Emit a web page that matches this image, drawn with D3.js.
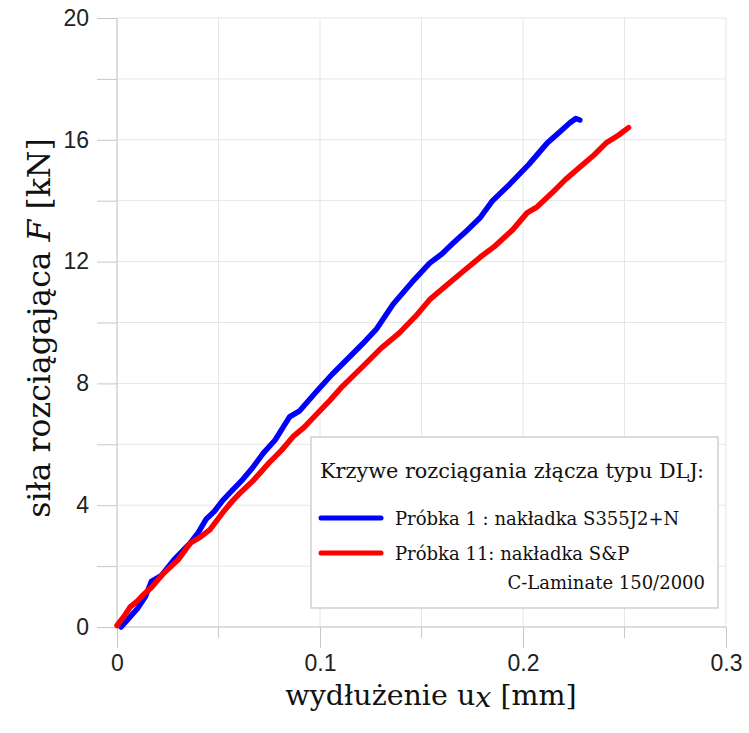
<!DOCTYPE html>
<html lang="pl">
<head>
    <meta charset="UTF-8">
    <script src="https://cdn.jsdelivr.net/npm/d3@7/dist/d3.min.js"></script>
    <title>Krzywe rozciągania</title>
    <style>
        body { margin: 0; background: #fff; }
        .grid line { stroke: #e6e6e6; stroke-width: 1; }
        .axis line, .axis path { stroke: #c8c8c8; }
        .axis text { font-family: "Liberation Sans", Arial, sans-serif; font-size: 23px; fill: #222; }
        .curve { fill: none; stroke-width: 5.5; stroke-linejoin: round; stroke-linecap: round; }
        .lgd { font-family: "DejaVu Serif", serif; fill: #111; }
    </style>
</head>
<body>
<svg id="chart" width="749" height="733"></svg>
<script>
    // [wydłużenie mm, siła kN]
    var probka1 = [[0.002,0],[0.006,0.3],[0.010,0.6],[0.014,1.0],[0.017,1.5],[0.022,1.7],[0.028,2.2],
        [0.036,2.75],[0.040,3.1],[0.044,3.55],[0.048,3.8],[0.052,4.15],[0.057,4.5],[0.062,4.85],
        [0.067,5.25],[0.072,5.7],[0.078,6.15],[0.085,6.9],[0.090,7.1],[0.0985,7.75],[0.106,8.3],
        [0.115,8.9],[0.121,9.3],[0.128,9.8],[0.136,10.6],[0.145,11.3],[0.154,11.95],[0.160,12.25],
        [0.1655,12.6],[0.172,13.0],[0.179,13.45],[0.185,14.0],[0.1936,14.55],[0.203,15.2],
        [0.212,15.9],[0.218,16.25],[0.223,16.55],[0.226,16.7],[0.228,16.65]];
    var probka11 = [[0,0.05],[0.004,0.4],[0.0064,0.65],[0.010,0.85],[0.0128,1.05],[0.017,1.3],
        [0.0227,1.75],[0.030,2.2],[0.036,2.75],[0.041,2.95],[0.0458,3.2],[0.052,3.75],[0.057,4.15],
        [0.0606,4.4],[0.067,4.8],[0.075,5.4],[0.081,5.8],[0.0867,6.25],[0.092,6.55],[0.0985,7.0],
        [0.105,7.45],[0.111,7.9],[0.121,8.55],[0.130,9.15],[0.139,9.65],[0.147,10.2],[0.154,10.75],
        [0.162,11.2],[0.170,11.65],[0.179,12.15],[0.186,12.5],[0.195,13.05],[0.202,13.6],
        [0.207,13.8],[0.215,14.3],[0.221,14.7],[0.228,15.1],[0.235,15.5],[0.241,15.9],
        [0.247,16.15],[0.252,16.4]];
    var xTicks = [0, 0.1, 0.2, 0.3];
    var xMinor = [0.05, 0.15, 0.25];
    var yTicks = [0, 4, 8, 12, 16, 20];
    var yGrid = [0, 2, 4, 6, 8, 10, 12, 14, 16, 18, 20];
    var xGrid = [0, 0.05, 0.1, 0.15, 0.2, 0.25, 0.3];
    var legendTitle = "Krzywe rozciągania złącza typu DLJ:";
    var series = [
        {name: "Próbka 1 : nakładka S355J2+N", extra: null, color: "#0000ff", data: probka1},
        {name: "Próbka 11: nakładka S&P", extra: "C-Laminate 150/2000", color: "#ff0000", data: probka11}
    ];

    var svg = d3.select("#chart");
    var pLeft = 117, pRight = 726, pTop = 18, pBottom = 627;

    var x = d3.scaleLinear().domain([0, 0.3]).range([pLeft, pRight]);
    var y = d3.scaleLinear().domain([0, 20]).range([pBottom, pTop]);

    var grid = svg.append("g").attr("class", "grid");
    grid.selectAll("line.v").data(xGrid).enter().append("line")
        .attr("x1", function (d) { return x(d); }).attr("x2", function (d) { return x(d); })
        .attr("y1", pTop).attr("y2", pBottom);
    grid.selectAll("line.h").data(yGrid).enter().append("line")
        .attr("x1", pLeft).attr("x2", pRight)
        .attr("y1", function (d) { return y(d); }).attr("y2", function (d) { return y(d); });

    // oś Y
    var yAxis = svg.append("g").attr("class", "axis").attr("transform", "translate(" + pLeft + ",0)")
        .call(d3.axisLeft(y).tickValues(yGrid).tickSize(20).tickFormat(function (d) {
            return yTicks.indexOf(d) >= 0 ? d : "";
        }).tickPadding(8));
    yAxis.select(".domain").attr("d", "M0," + pTop + "V" + pBottom);

    // oś X
    var xAxis = svg.append("g").attr("class", "axis").attr("transform", "translate(0," + pBottom + ")")
        .call(d3.axisBottom(x).tickValues(xTicks).tickSize(21).tickFormat(d3.format("")).tickPadding(7));
    xAxis.select(".domain").attr("d", "M" + pLeft + ",0H" + pRight);
    xAxis.selectAll(".minor").data(xMinor).enter().append("line")
        .attr("class", "minor")
        .attr("x1", function (d) { return x(d); }).attr("x2", function (d) { return x(d); })
        .attr("y1", 0).attr("y2", 11);

    var line = d3.line().x(function (d) { return x(d[0]); }).y(function (d) { return y(d[1]); });
    svg.selectAll("path.curve").data(series).enter().append("path")
        .attr("class", "curve")
        .attr("stroke", function (d) { return d.color; })
        .attr("d", function (d) { return line(d.data); });

    // tytuły osi
    var yt = svg.append("text").attr("class", "lgd")
        .attr("transform", "translate(50,328) rotate(-90)")
        .attr("text-anchor", "middle")
        .style("font-size", "31.5px");
    yt.append("tspan").text("siła rozciągająca ");
    yt.append("tspan").style("font-style", "italic").text("F");
    yt.append("tspan").text(" [kN]");

    var xt = svg.append("text").attr("class", "lgd")
        .attr("x", 431).attr("y", 705)
        .attr("text-anchor", "middle")
        .style("font-size", "28.5px");
    xt.append("tspan").text("wydłużenie u");
    xt.append("tspan").style("font-style", "italic").attr("dy", 2).text("x");
    xt.append("tspan").attr("dy", -2).text(" [mm]");

    // legenda
    var lg = svg.append("g").attr("transform", "translate(311,437)");
    lg.append("rect").attr("width", 407).attr("height", 171)
        .attr("fill", "#fff").attr("stroke", "#cfcfcf").attr("stroke-width", 1.5);
    lg.append("text").attr("class", "lgd").attr("x", 9).attr("y", 41).text(legendTitle)
        .style("font-size", "20.8px");
    var item = lg.selectAll("g.item").data(series).enter().append("g")
        .attr("class", "item")
        .attr("transform", function (d, i) { return "translate(0," + (81 + i * 35) + ")"; });
    item.append("line").attr("x1", 10).attr("x2", 70).attr("y1", 0).attr("y2", 0)
        .attr("stroke", function (d) { return d.color; }).attr("stroke-width", 5).attr("stroke-linecap", "round");
    item.append("text").attr("class", "lgd").attr("x", 84).attr("y", 7).text(function (d) { return d.name; })
        .style("font-size", "18px");
    item.filter(function (d) { return d.extra; }).append("text").attr("class", "lgd")
        .attr("x", 394).attr("y", 36).attr("text-anchor", "end").text(function (d) { return d.extra; })
        .style("font-size", "18px");
</script>
</body>
</html>
